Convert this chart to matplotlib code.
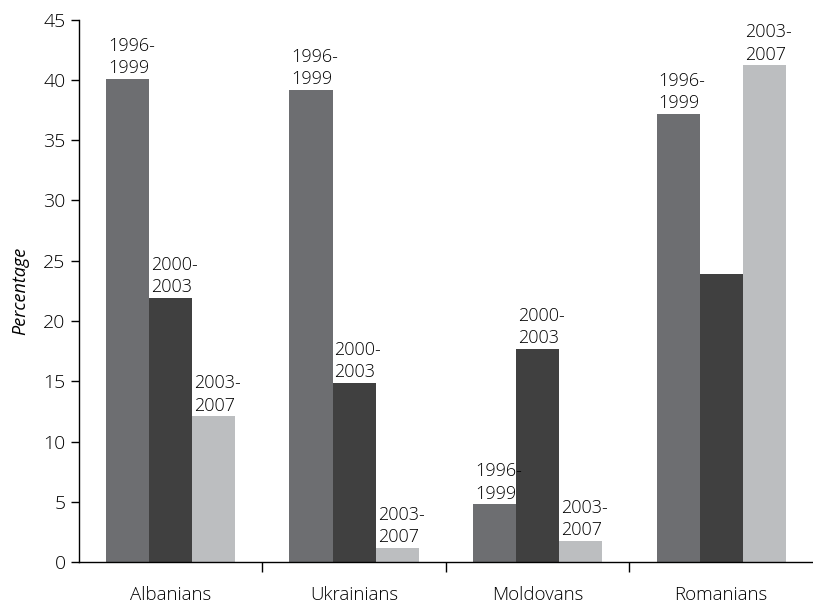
import numpy as np
import matplotlib
matplotlib.use("Agg")
import matplotlib.pyplot as plt

plt.rcParams['font.family'] = ['Open Sans', 'DejaVu Sans']
plt.rcParams['font.weight'] = 'light'

groups = ["Albanians", "Ukrainians", "Moldovans", "Romanians"]
periods = ["1996-\n1999", "2000-\n2003", "2003-\n2007"]
values = {
    "1996-1999": [40.1, 39.2, 4.8, 37.2],
    "2000-2003": [21.9, 14.9, 17.7, 23.9],
    "2003-2007": [12.1, 1.2, 1.8, 41.2],
}
# which bars carry a period label (Romanians 2000-2003 has none)
show_label = {
    "1996-1999": [True, True, True, True],
    "2000-2003": [True, True, True, False],
    "2003-2007": [True, True, True, True],
}
colors = ["#6d6e71", "#404040", "#bcbec0"]
ink = "#000000"

fig = plt.figure(figsize=(8.13, 6.05), dpi=100)
ax = fig.add_axes([0.097, 0.0706, 0.903, 0.897])

x = np.arange(len(groups))
width = 0.235
for i, (key, vals) in enumerate(values.items()):
    pos = x + (i - 1) * width
    ax.bar(pos, vals, width=width, color=colors[i], zorder=2)
    for p, v, show in zip(pos, vals, show_label[key]):
        if show:
            ax.text(p - width / 2 + 0.01, v + 0.15, periods[i], ha='left', va='bottom',
                    fontsize=13, color=ink, linespacing=1.3)

ax.set_xlim(-0.5, 3.5)
ax.set_ylim(0, 45)
ax.set_yticks(np.arange(0, 46, 5))
ax.set_xticks(x)
ax.set_xticklabels(groups)
ax.set_xticks([0.5, 1.5, 2.5], minor=True)
ax.tick_params(axis='x', which='major', length=0, pad=17, labelsize=13.5, colors=ink)
ax.tick_params(axis='x', which='minor', length=7, width=1, direction='out', color=ink)
ax.tick_params(axis='y', length=6, width=1, labelsize=14, colors=ink)

for s in ['top', 'right']:
    ax.spines[s].set_visible(False)
for s in ['left', 'bottom']:
    ax.spines[s].set_linewidth(1)
    ax.spines[s].set_color(ink)

ax.set_ylabel("Percentage", fontstyle='italic', fontsize=13, color=ink, labelpad=10)

fig.savefig("out.png", dpi=100)
